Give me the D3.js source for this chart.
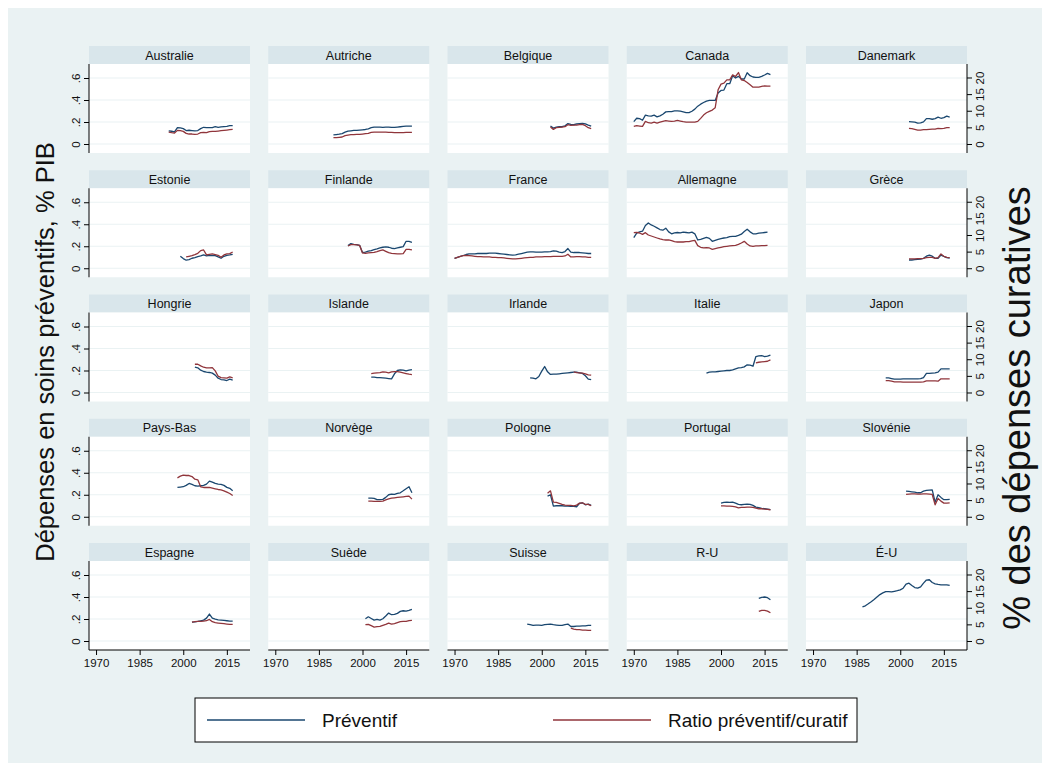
<!DOCTYPE html>
<html>
<head>
<meta charset="utf-8">
<script src="https://cdn.jsdelivr.net/npm/d3@7/dist/d3.min.js"></script>
<style>
  html, body { margin: 0; padding: 0; background: #ffffff; }
  svg { display: block; font-family: "Liberation Sans", Arial, Helvetica, sans-serif; }
</style>
</head>
<body>
<svg id="chart" width="1050" height="771"></svg>
<script>
// Pays (ordre des panneaux, 5 colonnes)
const countries = [
  "Australie", "Autriche", "Belgique", "Canada", "Danemark",
  "Estonie", "Finlande", "France", "Allemagne", "Grèce",
  "Hongrie", "Islande", "Irlande", "Italie", "Japon",
  "Pays-Bas", "Norvège", "Pologne", "Portugal", "Slovénie",
  "Espagne", "Suède", "Suisse", "R-U", "É-U"
];

// Dépenses préventives, % du PIB : première année et valeurs annuelles
const prevStart = [
  1995, 1990, 2003, 1970, 2003,
  1999, 1995, 1970, 1970, 2003,
  2004, 2003, 1996, 1995, 1995,
  1998, 2002, 2002, 2000, 2002,
  2003, 2001, 1995, 2013, 1987
];
const prevValues = [
  [.119,.116,.110,.149,.146,.140,.122,.125,.122,.119,.122,.140,.152,.149,.149,.149,.158,.152,.155,.158,.161,.167,.167],
  [.083,.086,.089,.095,.108,.117,.120,.123,.123,.126,.129,.132,.138,.148,.154,.154,.154,.151,.154,.154,.151,.151,.154,.157,.160,.163,.163,.163],
  [.163,.145,.154,.157,.157,.166,.185,.178,.175,.182,.185,.188,.182,.172,.163],
  [.204,.234,.231,.216,.262,.256,.253,.262,.247,.256,.271,.292,.295,.295,.301,.301,.298,.292,.286,.286,.298,.317,.344,.362,.377,.390,.396,.396,.396,.463,.487,.490,.548,.548,.621,.600,.615,.591,.591,.648,.621,.609,.606,.606,.615,.627,.642,.630],
  [.204,.201,.198,.189,.192,.201,.231,.231,.225,.231,.244,.234,.240,.253,.244],
  [.109,.088,.073,.079,.091,.097,.106,.112,.121,.112,.118,.115,.115,.103,.091,.109,.118,.121,.127],
  [.206,.224,.218,.215,.209,.143,.146,.155,.161,.170,.176,.185,.191,.194,.191,.182,.179,.185,.191,.197,.245,.245,.236],
  [.090,.099,.107,.116,.125,.131,.131,.131,.134,.134,.134,.134,.137,.137,.137,.134,.131,.128,.125,.122,.119,.122,.128,.134,.140,.146,.149,.149,.146,.146,.146,.149,.149,.152,.158,.155,.146,.143,.152,.179,.146,.143,.143,.143,.140,.137,.134,.134],
  [.278,.319,.331,.337,.388,.412,.394,.382,.367,.352,.346,.364,.331,.313,.322,.325,.322,.328,.325,.322,.328,.313,.257,.263,.272,.281,.272,.245,.254,.263,.269,.275,.278,.287,.290,.290,.299,.310,.334,.355,.331,.313,.313,.319,.322,.325,.328],
  [.075,.075,.078,.081,.084,.090,.110,.119,.110,.090,.090,.119,.107,.096,.093],
  [.230,.224,.203,.191,.185,.182,.176,.158,.130,.118,.115,.109,.121,.112],
  [.139,.139,.136,.136,.133,.130,.127,.124,.170,.200,.206,.203,.197,.203,.209],
  [.133,.130,.124,.145,.194,.236,.188,.164,.167,.167,.170,.173,.176,.179,.182,.185,.185,.179,.173,.152,.121,.118],
  [.176,.185,.188,.188,.191,.194,.197,.200,.200,.206,.215,.224,.227,.233,.252,.248,.239,.327,.333,.336,.327,.330,.339],
  [.133,.133,.127,.121,.121,.121,.124,.124,.124,.124,.124,.124,.127,.136,.173,.173,.176,.179,.185,.215,.215,.215,.215],
  [.267,.270,.273,.285,.303,.294,.282,.279,.282,.285,.297,.324,.315,.303,.297,.294,.285,.267,.258,.236],
  [.170,.170,.167,.155,.155,.158,.176,.200,.206,.203,.212,.218,.236,.255,.273,.218],
  [.188,.200,.097,.100,.100,.100,.097,.097,.094,.094,.091,.121,.127,.109,.115,.103],
  [.124,.130,.133,.130,.133,.124,.112,.109,.112,.115,.112,.103,.088,.082,.076,.073,.070,.064],
  [.233,.230,.227,.224,.218,.218,.233,.239,.242,.245,.133,.200,.176,.155,.155,.158],
  [.171,.174,.178,.184,.190,.208,.245,.208,.199,.193,.190,.187,.184,.181,.181],
  [.202,.220,.205,.190,.196,.190,.202,.227,.254,.239,.242,.251,.269,.275,.272,.279,.288],
  [.154,.148,.142,.145,.145,.142,.148,.151,.154,.148,.145,.142,.142,.148,.154,.132,.132,.135,.135,.138,.138,.142,.142],
  [.388,.397,.400,.394,.375],
  [.311,.320,.338,.357,.378,.400,.422,.437,.449,.449,.446,.452,.458,.465,.480,.517,.526,.505,.486,.480,.492,.526,.554,.557,.532,.520,.514,.511,.511,.511,.505]
];

// Ratio préventif/curatif, % des dépenses curatives : première année et valeurs annuelles
const ratioStart = [
  1995, 1990, 2003, 1970, 2003,
  2001, 1995, 1970, 1970, 2003,
  2004, 2003, 2011, 2012, 1995,
  1998, 2002, 2002, 2000, 2002,
  2003, 2001, 2010, 2013, 1987
];
const ratioValues = [
  [3.6,3.4,3.3,4.1,4.0,3.8,3.2,3.0,3.0,2.9,3.0,3.4,3.5,3.4,3.7,3.8,3.8,3.9,4.0,4.1,4.2,4.3,4.4],
  [1.9,1.9,2.0,2.1,2.5,2.7,2.8,2.8,2.9,2.9,3.0,3.1,3.2,3.5,3.6,3.6,3.6,3.6,3.6,3.5,3.5,3.4,3.4,3.4,3.4,3.5,3.5,3.5],
  [5.1,4.4,4.9,5.0,5.1,5.2,5.8,5.6,5.7,5.7,5.8,5.9,5.5,4.9,4.6],
  [5.3,5.5,5.4,5.3,6.8,6.4,6.3,6.6,6.3,6.6,6.8,7.0,6.9,6.8,6.9,7.1,6.9,6.7,6.6,6.6,6.6,6.6,6.8,7.7,8.7,9.4,9.8,10.2,10.9,16.3,18.0,18.3,19.3,19.3,20.8,20.3,21.5,19.3,19.1,18.5,17.8,17.1,17.1,17.1,17.3,17.5,17.4,17.4],
  [4.7,4.6,4.4,4.2,4.2,4.3,4.3,4.4,4.5,4.5,4.7,4.6,4.7,4.9,4.9],
  [3.4,3.6,3.8,4.1,4.5,5.3,5.5,4.0,4.2,4.3,4.1,3.9,3.3,4.0,4.3,4.4,4.9],
  [6.7,7.1,7.1,7.0,6.9,4.6,4.5,4.6,4.7,4.8,5.0,5.3,5.5,5.1,4.7,4.5,4.4,4.3,4.3,4.4,5.7,5.7,5.5],
  [3.0,3.3,3.6,3.8,3.9,3.8,3.7,3.6,3.5,3.5,3.4,3.4,3.4,3.3,3.3,3.2,3.2,3.1,3.0,2.9,2.8,2.8,2.9,3.0,3.1,3.2,3.3,3.3,3.4,3.4,3.4,3.5,3.5,3.5,3.6,3.6,3.6,3.6,3.7,4.2,3.4,3.4,3.5,3.5,3.4,3.4,3.3,3.3],
  [10.7,10.8,10.6,10.2,10.7,10.0,9.7,9.4,9.1,8.8,8.6,8.5,8.5,8.3,8.0,7.9,7.9,7.9,8.0,8.0,8.2,8.4,6.8,6.3,6.1,6.2,6.1,5.7,5.9,6.1,6.3,6.5,6.6,6.7,6.8,6.9,7.2,7.6,8.1,7.3,6.7,6.6,6.7,6.7,6.8,6.8,6.9],
  [2.8,2.8,2.8,2.9,2.9,3.0,3.2,3.3,3.3,3.0,3.2,4.3,3.6,3.3,3.2],
  [8.5,8.5,8.0,7.6,7.4,7.4,7.5,6.5,4.9,4.5,4.4,4.3,4.7,4.4],
  [5.7,5.8,5.9,6.0,6.2,6.1,5.9,6.2,6.3,6.3,6.1,5.9,5.7,5.5,5.4],
  [6.2,6.0,5.9,5.8,5.6,5.3,5.2],
  [8.9,9.1,9.2,9.3,9.4,9.8],
  [3.6,3.6,3.4,3.2,3.2,3.2,3.1,3.1,3.1,3.1,3.1,3.1,3.1,3.2,3.5,3.5,3.5,3.5,3.4,4.1,4.1,4.1,4.1],
  [11.7,12.2,12.5,12.4,12.4,12.1,11.3,11.1,9.0,8.8,8.8,8.8,8.6,8.4,8.2,8.1,7.8,7.4,7.0,6.4],
  [4.7,4.7,4.6,4.6,4.6,4.7,5.1,5.4,5.6,5.7,5.8,5.9,6.0,6.1,6.2,5.3],
  [7.1,7.8,4.4,4.3,4.0,3.7,3.5,3.4,3.4,3.3,3.5,4.1,4.2,3.7,3.7,3.3],
  [3.3,3.3,3.2,3.2,3.1,3.0,2.7,2.8,2.8,2.9,2.9,2.8,2.6,2.4,2.4,2.3,2.2,2.1],
  [6.7,6.8,6.9,6.9,6.8,6.8,6.9,6.9,6.8,6.7,3.6,5.5,4.7,4.1,4.1,4.2],
  [5.7,5.8,5.9,5.9,6.0,6.1,6.5,5.8,5.5,5.4,5.3,5.2,5.1,5.0,5.0],
  [4.9,5.0,4.6,4.2,4.3,4.4,4.7,5.0,5.4,5.1,5.2,5.5,5.8,5.9,5.9,6.1,6.2],
  [3.9,3.6,3.4,3.4,3.3,3.3,3.2,3.2],
  [8.9,9.2,9.2,9.0,8.5],
  []
];

// Graduations
const xTicks = [1970, 1985, 2000, 2015];
const yTicksLeft = [0, 0.2, 0.4, 0.6];
const yTickLabelsLeft = ["0", ".2", ".4", ".6"];
const yTicksRight = [0, 5, 10, 15, 20];

// Légende
const legendLabels = ["Préventif", "Ratio préventif/curatif"];

const C_PREV = "#1a476f";
const C_RATIO = "#90353b";
const BG = "#eaf2f3";
const STRIP = "#d9e6eb";
const GRID = "#eaf2f3";

const svg = d3.select("#chart");
const W = 1050, H = 771;

// fond du graphique
svg.append("rect").attr("x", 0).attr("y", 0).attr("width", W).attr("height", H).attr("fill", "#ffffff");
svg.append("rect").attr("x", 8).attr("y", 8).attr("width", W - 16).attr("height", H - 16).attr("fill", BG);

// géométrie de la grille de panneaux
const nCols = 5;
const colX0 = 89, colStep = 179.25, panelW = 161;
const rowY0 = 46, rowStep = 124.25, stripH = 18, plotH = 89;

const x = d3.scaleLinear().domain([1967.58, 2022.96]).range([0, panelW]);
const yL = d3.scaleLinear().domain([-0.0818, 0.7273]).range([plotH, 0]);
const yR = d3.scaleLinear().domain([-2.707, 24.06]).range([plotH, 0]);

const lineL = d3.line().x(d => x(d[0])).y(d => yL(d[1]));
const lineR = d3.line().x(d => x(d[0])).y(d => yR(d[1]));

const toSeries = (start, vals) => vals.map((v, i) => [start + i, v]);

countries.forEach((name, i) => {
  const col = i % nCols, row = Math.floor(i / nCols);
  const gx = colX0 + col * colStep;
  const gy = rowY0 + row * rowStep;
  const g = svg.append("g").attr("transform", `translate(${gx},${gy})`);

  // bandeau du titre
  g.append("rect").attr("x", 0).attr("y", 0).attr("width", panelW).attr("height", stripH).attr("fill", STRIP);
  g.append("text").attr("x", panelW / 2).attr("y", stripH / 2 + 4.5)
    .attr("text-anchor", "middle").attr("font-size", 12.5).attr("fill", "#111")
    .text(name);

  const p = g.append("g").attr("transform", `translate(0,${stripH})`);
  p.append("rect").attr("width", panelW).attr("height", plotH).attr("fill", "#ffffff");

  // lignes de grille
  p.selectAll("line.grid").data(yTicksLeft).join("line")
    .attr("class", "grid")
    .attr("x1", 0).attr("x2", panelW)
    .attr("y1", d => yL(d)).attr("y2", d => yL(d))
    .attr("stroke", GRID).attr("stroke-width", 1.2);

  // séries
  const s1 = toSeries(prevStart[i], prevValues[i]);
  const s2 = toSeries(ratioStart[i], ratioValues[i]);
  if (s1.length) p.append("path").datum(s1).attr("d", lineL)
    .attr("fill", "none").attr("stroke", C_PREV).attr("stroke-width", 1.3).attr("stroke-linejoin", "round");
  if (s2.length) p.append("path").datum(s2).attr("d", lineR)
    .attr("fill", "none").attr("stroke", C_RATIO).attr("stroke-width", 1.3).attr("stroke-linejoin", "round");

  // axe gauche (première colonne)
  if (col === 0) {
    const ax = p.append("g").call(d3.axisLeft(yL).tickValues(yTicksLeft)
      .tickFormat((d, k) => yTickLabelsLeft[k]).tickSize(5).tickPadding(3));
    ax.select(".domain").attr("stroke", "#000").attr("d", `M0,0V${plotH}`);
    ax.selectAll(".tick line").attr("stroke", "#000");
    ax.selectAll(".tick text")
      .attr("font-size", 11.5).attr("fill", "#111").attr("font-family", "Liberation Sans, Arial, sans-serif")
      .attr("text-anchor", "middle").attr("dy", null)
      .attr("transform", "translate(-13,0) rotate(-90)")
      .attr("x", 0).attr("y", 4);
  }
  // axe droit (dernière colonne)
  if (col === nCols - 1) {
    const ax = p.append("g").attr("transform", `translate(${panelW},0)`)
      .call(d3.axisRight(yR).tickValues(yTicksRight).tickSize(5).tickPadding(3));
    ax.select(".domain").attr("stroke", "#000").attr("d", `M0,0V${plotH}`);
    ax.selectAll(".tick line").attr("stroke", "#000");
    ax.selectAll(".tick text")
      .attr("font-size", 11.5).attr("fill", "#111").attr("font-family", "Liberation Sans, Arial, sans-serif")
      .attr("text-anchor", "middle").attr("dy", null)
      .attr("transform", "translate(13,0) rotate(-90)")
      .attr("x", 0).attr("y", 4);
  }
  // axe horizontal (dernière rangée)
  if (row === 4) {
    const ax = p.append("g").attr("transform", `translate(0,${plotH})`)
      .call(d3.axisBottom(x).tickValues(xTicks).tickFormat(d3.format("d")).tickSize(5).tickPadding(4));
    ax.select(".domain").attr("stroke", "#000").attr("d", `M0,0H${panelW}`);
    ax.selectAll(".tick line").attr("stroke", "#000");
    ax.selectAll(".tick text").attr("font-size", 11.5).attr("fill", "#111")
      .attr("font-family", "Liberation Sans, Arial, sans-serif");
  }
});

// titres des axes
svg.append("text")
  .attr("transform", "translate(54,352) rotate(-90)")
  .attr("text-anchor", "middle").attr("font-size", 25.5).attr("fill", "#111")
  .text("Dépenses en soins préventifs, % PIB");
svg.append("text")
  .attr("transform", "translate(1030,408) rotate(-90)")
  .attr("text-anchor", "middle").attr("font-size", 38).attr("fill", "#111")
  .text("% des dépenses curatives");

// légende
const lg = svg.append("g").attr("transform", "translate(195,698)");
lg.append("rect").attr("width", 662).attr("height", 44).attr("fill", "#ffffff").attr("stroke", "#000").attr("stroke-width", 1);
const legendItems = [
  { label: legendLabels[0], color: C_PREV, x0: 12 },
  { label: legendLabels[1], color: C_RATIO, x0: 358 }
];
legendItems.forEach(it => {
  lg.append("line").attr("x1", it.x0).attr("x2", it.x0 + 98).attr("y1", 22).attr("y2", 22)
    .attr("stroke", it.color).attr("stroke-width", 1.5);
  lg.append("text").attr("x", it.x0 + 115).attr("y", 29).attr("font-size", 19).attr("fill", "#111")
    .text(it.label);
});
</script>
</body>
</html>
